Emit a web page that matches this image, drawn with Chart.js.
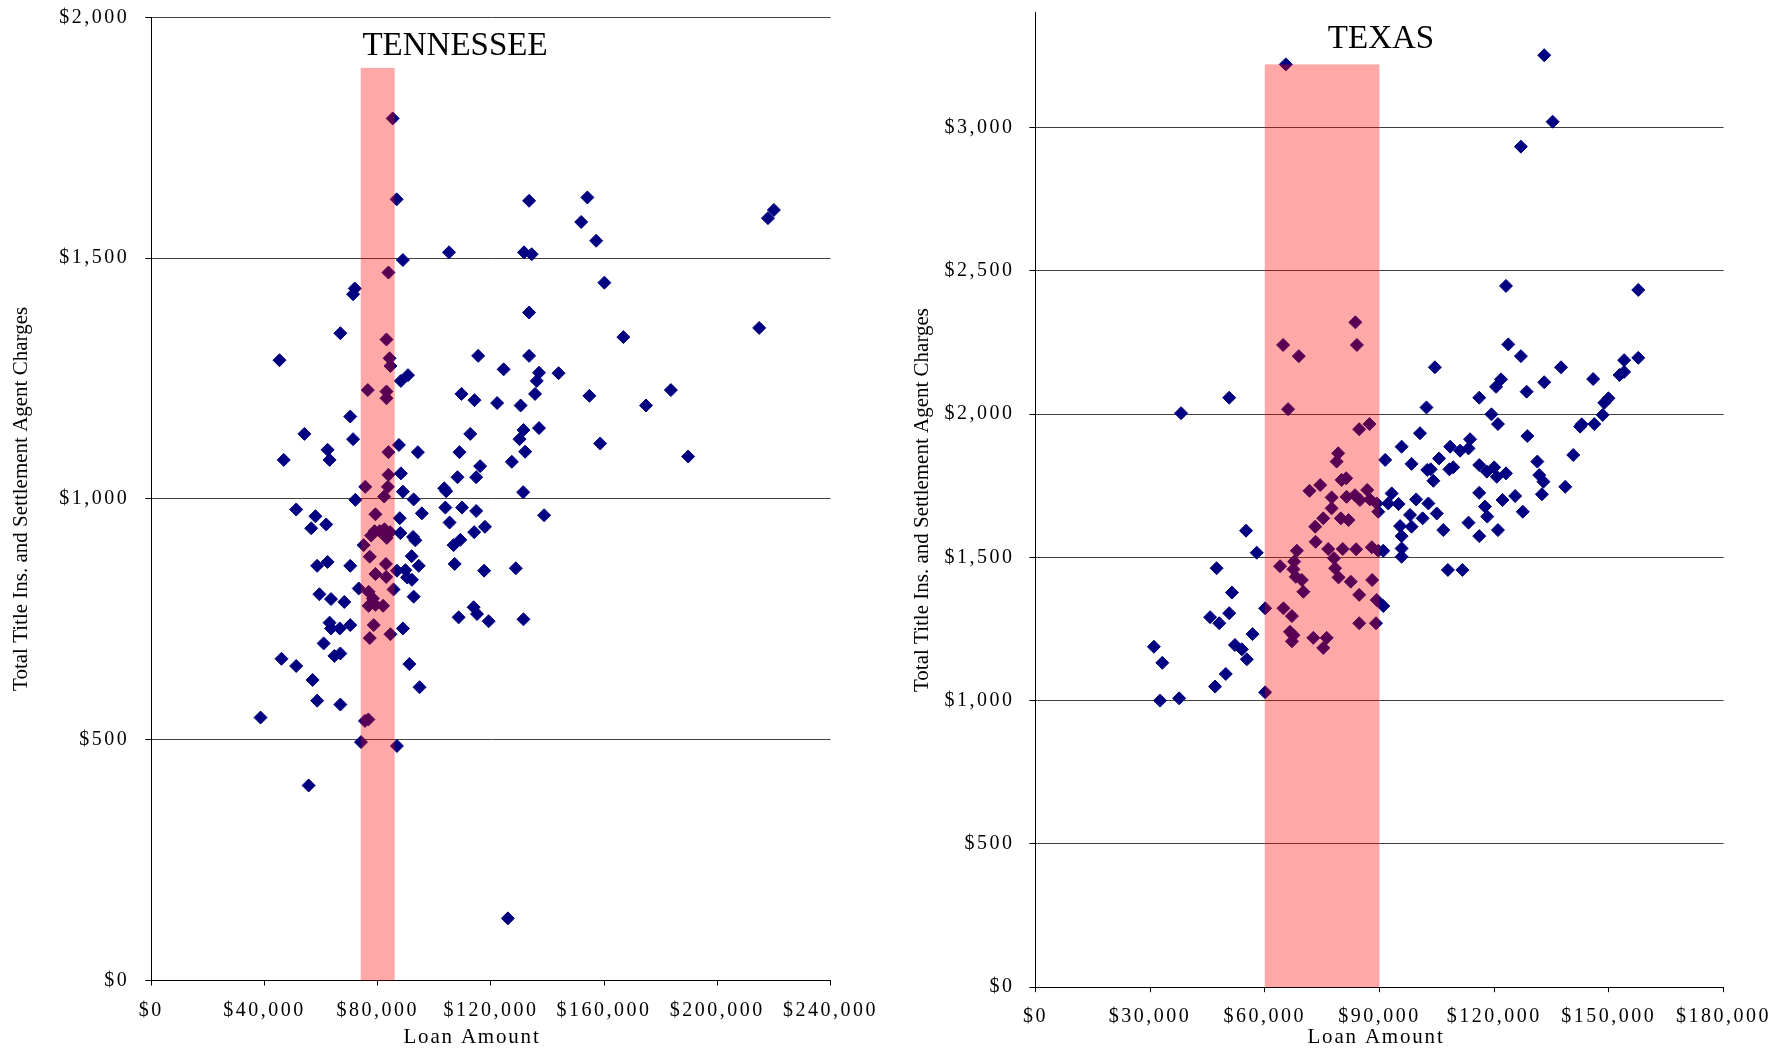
<!DOCTYPE html>
<html>
<head>
<meta charset="utf-8">
<script src="https://cdn.jsdelivr.net/npm/chart.js@4.4.1/dist/chart.umd.min.js"></script>
<style>
  html, body { margin: 0; padding: 0; background: #fff; }
  #wrap { position: relative; width: 1792px; height: 1049px; }
  .panel { position: absolute; top: 0; height: 1049px; }
  #tnBox { left: 0; width: 900px; }
  #txBox { left: 900px; width: 892px; }
</style>
</head>
<body>
<div id="wrap">
  <div class="panel" id="tnBox"><canvas id="tn"></canvas></div>
  <div class="panel" id="txBox"><canvas id="tx"></canvas></div>
</div>
<script>
// ---- Tennessee: loan amount vs. total title insurance + settlement agent charges ----
const tnLoan = [
  85300, 86700, 133500, 154100, 151900, 157200, 220000, 217900, 105200, 131700,
  134400, 88900, 160100, 83800, 71900, 71300, 133500, 66800, 214800, 166800,
  83100, 45300, 84200, 84500, 115500, 133500, 124500, 143900, 90700, 88200,
  137000, 136200, 76500, 83100, 83100, 109600, 135600, 183600, 154800, 114200,
  122200, 130500, 174800, 70300, 54100, 71300, 112700, 131500, 137000, 62300,
  63000, 46800, 87500, 94200, 83800, 108900, 132100, 130100, 189700, 158600,
  127400, 116200, 88200, 83800, 108200, 114800, 75600, 83600, 103500, 104200,
  88900, 131400, 92700, 82300, 72100, 51200, 58000, 56500, 61800, 79200,
  87800, 95600, 103900, 109800, 114800, 105400, 117900, 114100, 109200, 106800,
  138800, 77700, 78900, 80700, 82400, 84400, 83200, 88000, 92500, 93300,
  75000, 77200, 92000, 94500, 82900, 58600, 62300, 70300, 79200, 83000,
  86800, 89800, 90400, 92100, 85600, 73300, 76800, 78300, 92700, 59400,
  63500, 68200, 76800, 79200, 81900, 63000, 63500, 66600, 70300, 78600,
  88900, 77200, 84500, 60900, 64700, 66800, 46000, 51200, 91200, 57000,
  94800, 58600, 66800, 38600, 75500, 76700, 74100, 86800, 55600, 126000,
  107200, 117600, 128800, 113900, 115100, 108600, 119200, 131500
];
const tnCharges = [
  1790, 1622, 1619, 1626, 1575, 1536, 1600, 1583, 1512, 1512,
  1508, 1496, 1449, 1470, 1437, 1425, 1387, 1344, 1355, 1336,
  1331, 1288, 1292, 1276, 1297, 1297, 1269, 1261, 1257, 1245,
  1262, 1245, 1226, 1223, 1209, 1218, 1218, 1226, 1214, 1205,
  1199, 1194, 1194, 1171, 1135, 1124, 1135, 1143, 1147, 1102,
  1081, 1081, 1112, 1097, 1097, 1097, 1098, 1124, 1088, 1115,
  1077, 1068, 1053, 1050, 1045, 1045, 1025, 1025, 1022, 1016,
  1015, 1014, 999, 1005, 998, 978, 964, 939, 947, 968,
  960, 970, 982, 982, 975, 951, 942, 931, 915, 904,
  966, 924, 933, 933, 937, 931, 919, 929, 921, 914,
  904, 880, 881, 861, 865, 861, 869, 861, 844, 838,
  851, 852, 837, 832, 812, 814, 807, 793, 797, 802,
  792, 786, 778, 780, 778, 743, 731, 731, 738, 738,
  731, 711, 719, 700, 674, 679, 668, 653, 657, 624,
  609, 581, 573, 546, 539, 542, 495, 487, 405, 129,
  865, 851, 856, 775, 761, 754, 746, 750
];
const tnXTicks = [0, 40000, 80000, 120000, 160000, 200000, 240000];
const tnYTicks = [0, 500, 1000, 1500, 2000];
const tnBandLoan = [74000, 86000];   // highlighted loan range
const tnBandTop = 1895;

// ---- Texas ----
const txLoan = [
  65500, 133100, 135300, 127000, 123100, 157700, 83700, 64800, 84100, 123700,
  68900, 127000, 157700, 154000, 152800, 154000, 104500, 137500, 145900, 133100,
  121800, 120500, 128500, 50700, 116100, 149900, 148800, 66100, 38100, 102300,
  119300, 148400, 121000, 142500, 142900, 146200, 87400, 84700, 100600, 128700,
  140700, 79200, 78800, 91500, 95800, 98400, 102500, 113700, 113300, 111100,
  108500, 105600, 103400, 104100, 108300, 109300, 116100, 118100, 120000, 120700,
  123100, 131300, 131800, 132900, 132500, 138600, 116100, 122200, 125500, 117600,
  118200, 127500, 102800, 105000, 101300, 113300, 106700, 116100, 121000, 107900,
  111700, 80100, 81300, 71700, 74500, 77500, 81400, 83600, 86800, 84900,
  87500, 89300, 89700, 93200, 92300, 95000, 99600, 98000, 95400, 95800,
  98400, 95800, 95800, 91000, 77500, 79900, 81900, 75300, 73200, 73300,
  76600, 80400, 83900, 88000, 89700, 68400, 78100, 78400, 79300, 67700,
  67500, 64000, 68100, 69700, 70100, 82500, 84700, 88100, 89300, 91000,
  60100, 64900, 67100, 84700, 89100, 66600, 67500, 67100, 72700, 76200,
  75300, 55100, 57900, 47400, 51400, 50700, 45700, 48100, 60100, 56800,
  52200, 54000, 55300, 49800, 47000, 31000, 33200, 32600, 37600
];
const txCharges = [
  3220, 3252, 3020, 2933, 2447, 2433, 2320, 2241, 2241, 2243,
  2202, 2202, 2196, 2188, 2136, 2147, 2163, 2163, 2122, 2111,
  2121, 2095, 2078, 2057, 2057, 2055, 2039, 2017, 2003, 2023,
  1999, 1997, 1965, 1956, 1964, 1965, 1965, 1947, 1933, 1923,
  1857, 1863, 1834, 1840, 1886, 1826, 1805, 1912, 1880, 1872,
  1886, 1845, 1807, 1767, 1807, 1814, 1822, 1799, 1814, 1781,
  1793, 1834, 1787, 1764, 1720, 1746, 1725, 1700, 1714, 1677,
  1642, 1659, 1688, 1653, 1636, 1621, 1595, 1574, 1595, 1456,
  1456, 1770, 1776, 1732, 1752, 1709, 1711, 1717, 1735, 1700,
  1702, 1688, 1659, 1723, 1688, 1686, 1702, 1648, 1609, 1574,
  1607, 1531, 1502, 1523, 1671, 1636, 1630, 1636, 1607, 1554,
  1529, 1529, 1528, 1535, 1523, 1523, 1497, 1462, 1430, 1485,
  1458, 1469, 1432, 1421, 1380, 1415, 1369, 1421, 1351, 1330,
  1322, 1322, 1295, 1270, 1270, 1240, 1228, 1207, 1219, 1219,
  1184, 1593, 1516, 1462, 1377, 1305, 1291, 1270, 1029, 1232,
  1194, 1179, 1144, 1093, 1049, 1188, 1132, 1000, 1008
];
const txXTicks = [0, 30000, 60000, 90000, 120000, 150000, 180000];
const txYTicks = [0, 500, 1000, 1500, 2000, 2500, 3000];
const txBandLoan = [60000, 90000];
const txBandTop = 3220;

const SERIF = "'Liberation Serif', 'Times New Roman', serif";
const money = v => '$' + Number(v).toLocaleString('en-US');

// Translucent red band laid over the markers for the highlighted loan range
const shadeBand = {
  id: 'shadeBand',
  afterDatasetsDraw(chart, args, o) {
    const { ctx, scales: { x, y } } = chart;
    const x0 = x.getPixelForValue(o.range[0]);
    const x1 = x.getPixelForValue(o.range[1]);
    const yT = y.getPixelForValue(o.top);
    const yB = y.getPixelForValue(0);
    ctx.save();
    ctx.fillStyle = o.color;
    ctx.fillRect(x0, yT, x1 - x0, yB - yT);
    ctx.restore();
  }
};

// Panel heading and axis titles; tick labels get the wide letter spacing
const panelText = {
  id: 'panelText',
  beforeUpdate(chart) { chart.ctx.letterSpacing = '2.5px'; },
  beforeDraw(chart) { chart.ctx.letterSpacing = '2.5px'; },
  afterDraw(chart, args, o) {
    const ctx = chart.ctx, a = chart.chartArea;
    ctx.save();
    ctx.fillStyle = '#000';
    ctx.letterSpacing = '0px';
    ctx.textAlign = 'center';
    ctx.textBaseline = 'alphabetic';
    ctx.font = `33px ${SERIF}`;
    ctx.fillText(o.title, o.titleX, o.titleY);
    ctx.save();
    ctx.font = `21px ${SERIF}`;
    ctx.translate(o.yTitleX, (a.top + a.bottom) / 2);
    ctx.rotate(-Math.PI / 2);
    ctx.fillText(o.yTitle, 0, 0);
    ctx.restore();
    ctx.letterSpacing = '1.8px';
    ctx.font = `21px ${SERIF}`;
    ctx.fillText(o.xTitle, o.xTitleX, o.xTitleY);
    ctx.restore();
  }
};

function scatterPanel(id, c) {
  return new Chart(document.getElementById(id), {
    type: 'scatter',
    data: {
      datasets: [{
        data: c.loan.map((v, i) => ({ x: v, y: c.charges[i] })),
        backgroundColor: '#000080',
        borderColor: '#000080',
        borderWidth: 1,
        pointStyle: 'rectRot',
        pointRadius: 6.5,
        pointHoverRadius: 6.5
      }]
    },
    options: {
      responsive: true,
      maintainAspectRatio: false,
      devicePixelRatio: 1,
      animation: false,
      events: [],
      layout: { padding: c.pad },
      plugins: {
        legend: { display: false },
        tooltip: { enabled: false },
        shadeBand: { range: c.band, top: c.bandTop, color: 'rgba(255, 0, 0, 0.34)' },
        panelText: c.text
      },
      scales: {
        x: {
          type: 'linear',
          min: c.xTicks[0],
          max: c.xTicks[c.xTicks.length - 1],
          afterBuildTicks: s => { s.ticks = c.xTicks.map(v => ({ value: v })); },
          afterFit: s => { s.height = c.xAxisHeight; s.paddingLeft = 0; s.paddingRight = 0; },
          grid: { drawOnChartArea: false, drawTicks: true, tickLength: 5, tickColor: '#000' },
          border: { display: true, color: '#000', width: 1 },
          ticks: {
            color: '#000', font: { family: SERIF, size: 20 }, padding: 13,
            maxRotation: 0, autoSkip: false, callback: v => money(v)
          }
        },
        y: {
          type: 'linear',
          min: 0,
          max: c.yMax,
          afterBuildTicks: s => { s.ticks = c.yTicks.map(v => ({ value: v })); },
          afterFit: s => { s.width = c.yAxisWidth; s.paddingTop = 0; s.paddingBottom = 0; },
          grid: { color: '#404040', lineWidth: 1, drawTicks: true, tickLength: 6, tickColor: '#000' },
          border: { display: true, color: '#000', width: 1 },
          ticks: {
            color: '#000', font: { family: SERIF, size: 20 }, padding: c.yPad,
            autoSkip: false, callback: v => money(v)
          }
        }
      }
    },
    plugins: [shadeBand, panelText]
  });
}

scatterPanel('tn', {
  loan: tnLoan, charges: tnCharges, xTicks: tnXTicks, yTicks: tnYTicks, yMax: 2000,
  band: tnBandLoan, bandTop: tnBandTop,
  pad: { left: 0, top: 17.3, right: 69.5, bottom: 0 },
  yAxisWidth: 151.3, xAxisHeight: 68.5, yPad: 16,
  text: {
    title: 'TENNESSEE', titleX: 455, titleY: 55,
    yTitle: 'Total Title Ins. and Settlement Agent Charges', yTitleX: 27,
    xTitle: 'Loan Amount', xTitleX: 472, xTitleY: 1043
  }
});

scatterPanel('tx', {
  loan: txLoan, charges: txCharges, xTicks: txXTicks, yTicks: txYTicks, yMax: 3400,
  band: txBandLoan, bandTop: txBandTop,
  pad: { left: 0, top: 12.8, right: 68.5, bottom: 0 },
  yAxisWidth: 135.4, xAxisHeight: 61.8, yPad: 15,
  text: {
    title: 'TEXAS', titleX: 481, titleY: 48,
    yTitle: 'Total Title Ins. and Settlement Agent Charges', yTitleX: 28,
    xTitle: 'Loan Amount', xTitleX: 476, xTitleY: 1043
  }
});
</script>
</body>
</html>
